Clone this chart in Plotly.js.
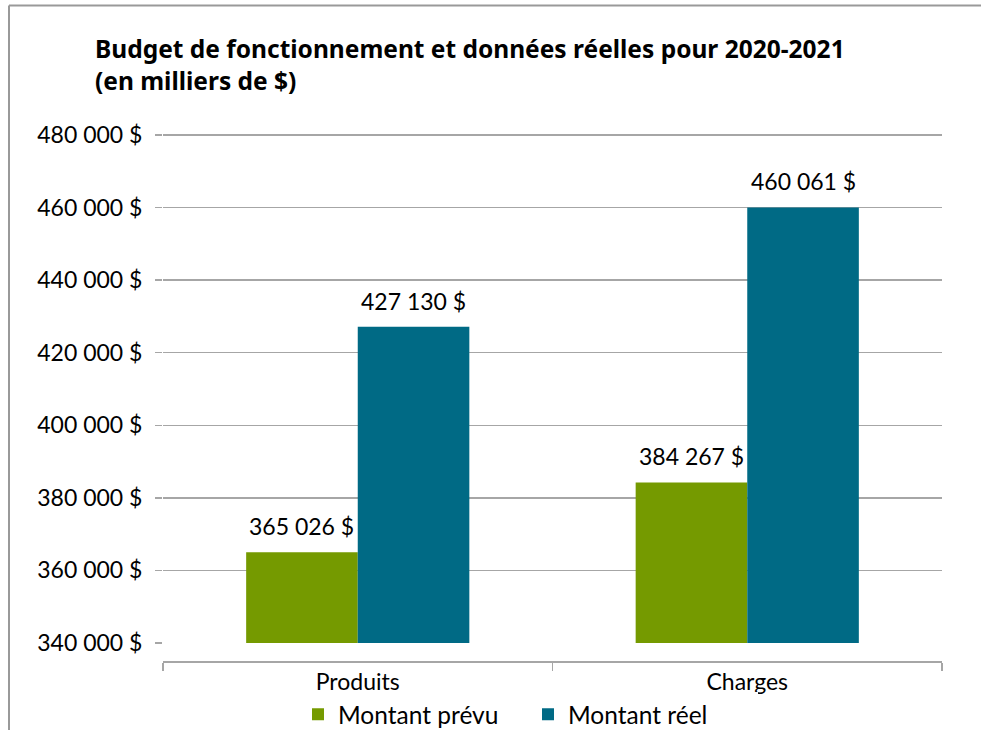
<!DOCTYPE html>
<html>
<head>
<meta charset="utf-8">
<script src="https://cdn.plot.ly/plotly-3.0.1.min.js"></script>
<style>html,body{margin:0;padding:0;background:#fff;}</style>
</head>
<body>
<div id="chart" style="width:981px;height:730px;"></div>
<script>
const categories = ["Produits", "Charges"];
const seriesNames = ["Montant prévu", "Montant réel"];
const prevu = [365026, 384267];
const reel = [427130, 460061];
const titleText = "Budget de fonctionnement et données réelles pour 2020-2021<br>(en milliers de $)";

const FONT = "Lato, 'Noto Sans', sans-serif";
const TFONT = "'Noto Sans', sans-serif";
const FS = 23;
const colors = ["#759a00", "#006a85"];

const traces = [prevu, reel].map((vals, i) => ({
  type: "bar",
  name: seriesNames[i],
  x: categories,
  y: vals,
  marker: {color: colors[i], line: {width: 0}},
  hoverinfo: "skip"
}));

const annotations = [];
[prevu, reel].forEach((vals, i) => {
  vals.forEach((v, j) => {
    annotations.push({
      x: categories[j], y: v, xref: "x", yref: "y",
      text: v.toLocaleString("fr-FR").replace(/\s/g, " ") + " $",
      showarrow: false, yanchor: "bottom", xanchor: "center",
      xshift: i === 0 ? -56 : 56, yshift: 10,
      font: {family: FONT, size: FS, color: "#000"}
    });
  });
});

const px = p => (p - 163) / 779;
const py = p => (661 - p) / 526;

const layout = {
  width: 981, height: 730,
  margin: {l: 163, r: 39, t: 133, b: 69, pad: 0, autoexpand: false},
  paper_bgcolor: "#fff", plot_bgcolor: "#fff",
  separators: ", ",
  font: {family: FONT, size: FS, color: "#000"},
  title: {
    text: "<b>" + titleText + "</b>",
    x: 95 / 981, xref: "container", xanchor: "left",
    y: 1 - 58 / 730, yref: "container", yanchor: "top",
    font: {family: TFONT, size: 24.5, color: "#000"}
  },
  barmode: "group", bargap: 0.427, bargroupgap: 0,
  xaxis: {
    anchor: "free", position: 0,
    showline: true, linecolor: "#a6a6a6", linewidth: 1.5,
    ticks: "outside", tickson: "boundaries", ticklen: 8, tickcolor: "#a6a6a6", tickwidth: 1.5,
    showgrid: false, zeroline: false,
    tickfont: {family: FONT, size: FS, color: "#000"},
    fixedrange: true
  },
  yaxis: {
    domain: [18 / 528, 1],
    range: [340000, 480560], dtick: 20000, tick0: 340000,
    tickformat: ",.0f", ticksuffix: " $",
    ticks: "outside", ticklen: 7, tickcolor: "#a6a6a6", tickwidth: 1.5,
    ticklabelstandoff: 8,
    showgrid: true, gridcolor: "#a6a6a6", gridwidth: 1.5,
    zeroline: false, showline: false,
    tickfont: {family: FONT, size: FS, color: "#000"},
    fixedrange: true
  },
  showlegend: true,
  legend: {
    orientation: "h", x: px(298), xanchor: "left",
    y: py(714), yanchor: "middle",
    entrywidth: 185, entrywidthmode: "pixels",
    font: {family: FONT, size: 24.5, color: "#000"},
    itemclick: false, itemdoubleclick: false
  },
  annotations: annotations,
  shapes: [
    {type: "line", xref: "paper", yref: "paper", x0: px(9), x1: px(981), y0: py(8), y1: py(8), line: {color: "#999", width: 2}},
    {type: "line", xref: "paper", yref: "paper", x0: px(9), x1: px(9), y0: py(8), y1: py(730), line: {color: "#999", width: 2}}
  ]
};

Plotly.newPlot("chart", traces, layout, {displayModeBar: false, staticPlot: true});
</script>
</body>
</html>
